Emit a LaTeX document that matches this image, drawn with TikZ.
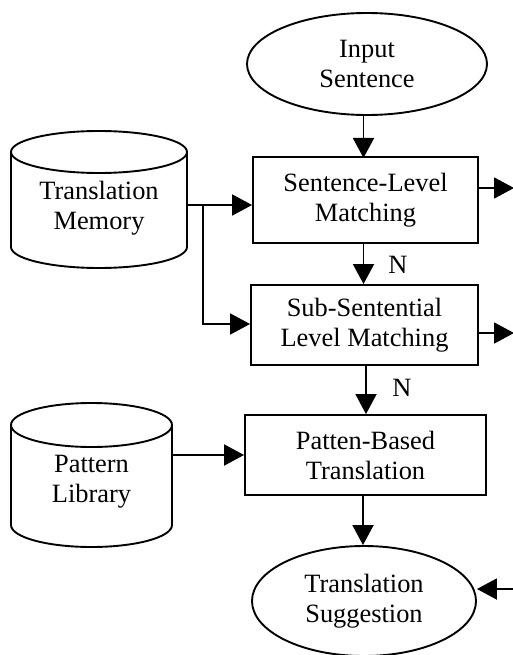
\documentclass[tikz,border=0pt]{standalone}
\usepackage{fontspec}
\setmainfont{Liberation Serif}
\usetikzlibrary{arrows.meta,shapes.geometric}
\tikzset{
  lbl/.style={font=\fontsize{26.4}{30}\selectfont, align=center, inner sep=0pt},
  ln/.style={line width=1.9pt},
  procbox/.style={lbl, draw, ln},
  term/.style={lbl, draw, ln, ellipse},
  arr/.style={ln, -{Triangle[length=20pt,width=21pt]}},
  plain/.style={ln}
}
\begin{document}
\begin{tikzpicture}[x=1pt,y=1pt]
\useasboundingbox (0,0) rectangle (513,-655);
% nodes
\node[term, minimum width=240pt, minimum height=102pt] (in) at (367,-64) {Input\\Sentence};
\node[procbox, minimum width=225pt, minimum height=86pt] (sl) at (365.5,-200) {Sentence-Level\\Matching};
\node[procbox, minimum width=227pt, minimum height=80pt] (sub) at (364.5,-325) {Sub-Sentential\\Level Matching};
\node[procbox, minimum width=241pt, minimum height=80pt] (pat) at (365.5,-455) {Patten-Based\\Translation};
\node[term, minimum width=224pt, minimum height=110pt] (ts) at (364,-601) {Translation\\Suggestion};
% cylinders
\draw[ln] (99,-152) ellipse [x radius=88pt, y radius=21pt];
\draw[ln] (11,-152) -- (11,-247) arc[start angle=180, end angle=360, x radius=88pt, y radius=21pt] -- (187,-152);
\node[lbl] (tm) at (99,-208) {Translation\\Memory};
\draw[ln] (91.5,-425) ellipse [x radius=80.5pt, y radius=22pt];
\draw[ln] (11,-425) -- (11,-525) arc[start angle=180, end angle=360, x radius=80.5pt, y radius=22pt] -- (172,-425);
\node[lbl] (pl) at (91.5,-482) {Pattern\\Library};
% coordinates
\coordinate (tmR) at (187,-205);
\coordinate (br) at (203,-205);
\coordinate (plR) at (172,-455);
\coordinate (o1) at (514,-188);
\coordinate (o2) at (514,-333);
\coordinate (o3) at (514,-589);
% connectors
\draw[arr] (sl.north |- in.south) ++(-2,0) -- ++(0,-42);
\draw[arr] ([xshift=-2pt]sl.south) -- ([xshift=-2pt]sl.south |- sub.north);
\draw[arr] ([xshift=1.5pt]sub.south) -- ([xshift=1.5pt]sub.south |- pat.north);
\draw[arr] ([xshift=-2.5pt]pat.south) -- ([xshift=-1pt]ts.north);
\draw[arr] (tmR) -- (tmR -| sl.west);
\draw[arr] (br) |- (sub.west |- 0,-324);
\draw[arr] (plR) -- (pat.west);
\draw[arr] (sl.east |- o1) -- (o1);
\draw[arr] (sub.east |- o2) -- (o2);
\draw[arr] (o3) -- (o3 -| ts.east);
% labels
\node[lbl] (n1) at (398,-265) {N};
\node[lbl] (n2) at (402,-388) {N};
\end{tikzpicture}
\end{document}
